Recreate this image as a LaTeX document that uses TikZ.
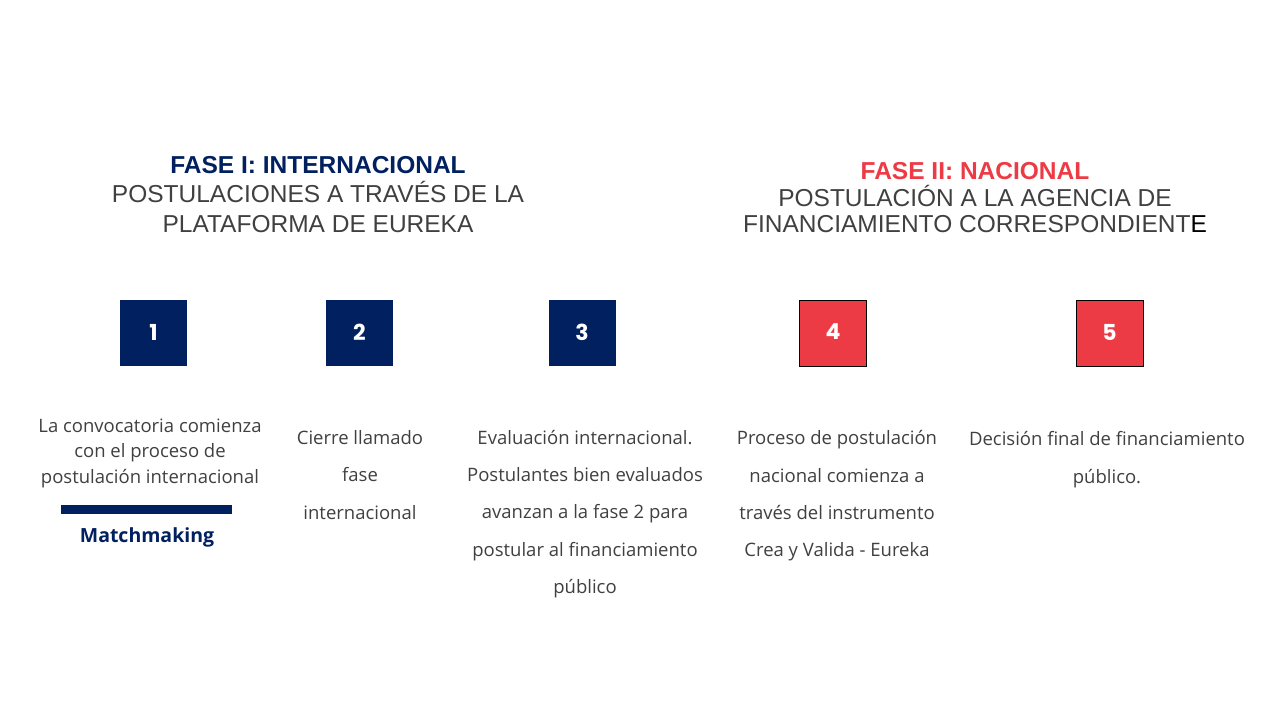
\documentclass[tikz,border=0pt]{standalone}
\usepackage{fontspec}
\setmainfont{Open Sans}
\newfontfamily\headfont{Liberation Sans}
\newfontfamily\numfont{Poppins}
\definecolor{navy}{RGB}{0,32,96}
\definecolor{fred}{RGB}{237,59,69}
\definecolor{txt}{RGB}{64,64,64}
\begin{document}
\begin{tikzpicture}[x=1pt,y=-1pt,
  numbox/.style={minimum width=67pt,minimum height=66pt,inner sep=0pt,text=white,font=\numfont\bfseries\fontsize{22}{24}\selectfont},
  bluebox/.style={numbox,fill=navy},
  redbox/.style={numbox,fill=fred,draw=black,line width=0.8pt},
  head/.style={align=center,inner sep=0pt,font=\headfont\fontsize{24.5}{29.5}\selectfont,text=txt},
  desc/.style={align=center,inner sep=0pt,text=txt,font=\fontsize{18.5}{25.5}\selectfont},
  descw/.style={align=center,inner sep=0pt,text=txt,font=\fontsize{18.5}{37.3}\selectfont}]
\useasboundingbox[fill=white] (0,0) rectangle (1280,720);
% headings
\node[head,anchor=north] (h1) at (318,156) {{\bfseries\color{navy}FASE I: INTERNACIONAL}\\POSTULACIONES A TRAVÉS DE LA\\PLATAFORMA DE EUREKA};
\node[head,anchor=north,font=\headfont\fontsize{24.5}{26.7}\selectfont] (h2) at (975,162) {{\bfseries\color{fred}FASE II: NACIONAL}\\POSTULACIÓN A LA AGENCIA DE\\FINANCIAMIENTO CORRESPONDIENT{\color{black}E}};
% boxes
\node[bluebox] (b1) at (153.5,333) {\raisebox{2pt}{1}};
\node[bluebox] (b2) at (359.5,333) {\raisebox{2pt}{2}};
\node[bluebox] (b3) at (582,333) {\raisebox{2pt}{3}};
\node[redbox] (b4) at (833,333) {\raisebox{2pt}{4}};
\node[redbox] (b5) at (1109.5,333) {\raisebox{2pt}{5}};
% descriptions
\node[desc,anchor=center] (d1) at (150,453) {La convocatoria comienza\\con el proceso de\\postulación internacional};
\fill[navy] (61,505) rectangle (232,514);
\node[desc,anchor=center,font=\bfseries\fontsize{19.5}{22}\selectfont,text=navy] (m1) at (147,537) {Matchmaking};
\node[descw] (d2) at (360,475) {Cierre llamado\\fase\\internacional};
\node[descw] (d3) at (585,514) {Evaluación internacional.\\Postulantes bien evaluados\\avanzan a la fase 2 para\\postular al financiamiento\\público};
\node[descw] (d4) at (837,496) {Proceso de postulación\\nacional comienza a\\través del instrumento\\Crea y Valida - Eureka};
\node[descw,font=\fontsize{18.5}{38}\selectfont] (d5) at (1107,460) {Decisión final de financiamiento\\público.};
\end{tikzpicture}
\end{document}
